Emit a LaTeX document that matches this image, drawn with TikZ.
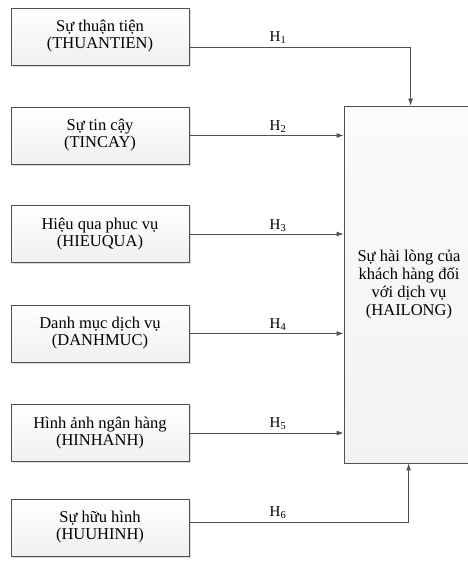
\documentclass[tikz,border=0pt]{standalone}
\usepackage{fontspec}
\setmainfont{Liberation Serif}
\usetikzlibrary{arrows.meta,shadows}
\definecolor{linec}{HTML}{505050}
\tikzset{
  factor/.style={draw=linec, line width=0.8pt, top color=white, bottom color=gray!12,
    minimum width=178pt, minimum height=57pt, align=center, inner sep=0pt,
    font=\fontsize{16.5pt}{17pt}\selectfont,
    drop shadow={shadow xshift=1.5pt, shadow yshift=-1.5pt, fill=gray!45, opacity=0.6}},
  outcome/.style={draw=linec, line width=0.8pt, top color=white!97!gray, bottom color=gray!10,
    minimum width=130pt, minimum height=357pt, align=center, inner sep=0pt,
    font=\fontsize{16.5pt}{18pt}\selectfont},
  arr/.style={draw=linec, line width=0.9pt, -{Latex[length=7pt,width=5pt]}},
  hlab/.style={font=\fontsize{15pt}{15pt}\selectfont, inner sep=0pt}
}
\begin{document}
\begin{tikzpicture}[x=1pt,y=-1pt]
\useasboundingbox (0,0) rectangle (467,563);
\node[outcome] (hl) at (409,284.5) {Sự hài lòng của\\khách hàng đối\\với dịch vụ\\(HAILONG)};
\node[factor] (b1) at (100,36.5) {Sự thuận tiện\\(THUANTIEN)};
\node[factor] (b2) at (100,135.5) {Sự tin cậy\\(TINCAY)};
\node[factor] (b3) at (100,234) {Hiệu qua phuc vụ\\(HIEUQUA)};
\node[factor] (b4) at (100,333.5) {Danh mục dịch vụ\\(DANHMUC)};
\node[factor] (b5) at (100,433) {Hình ảnh ngân hàng\\(HINHANH)};
\node[factor] (b6) at (100,527.5) {Sự hữu hình\\(HUUHINH)};
\draw[arr] ([yshift=-10.5pt]b1.east) -| ([xshift=67pt]hl.north west);
\draw[arr] (b2.east) -- (b2.east -| hl.west);
\draw[arr] (b3.east) -- (b3.east -| hl.west);
\draw[arr] (b4.east) -- (b4.east -| hl.west);
\draw[arr] (b5.east) -- (b5.east -| hl.west);
\draw[arr] ([yshift=5.5pt]b6.east) -| ([xshift=65pt]hl.south west);
\node[hlab] (h1) at (278,38) {H\textsubscript{1}};
\node[hlab] (h2) at (278,127) {H\textsubscript{2}};
\node[hlab] (h3) at (278,226) {H\textsubscript{3}};
\node[hlab] (h4) at (278,325) {H\textsubscript{4}};
\node[hlab] (h5) at (278,424) {H\textsubscript{5}};
\node[hlab] (h6) at (278,513) {H\textsubscript{6}};
\end{tikzpicture}
\end{document}
